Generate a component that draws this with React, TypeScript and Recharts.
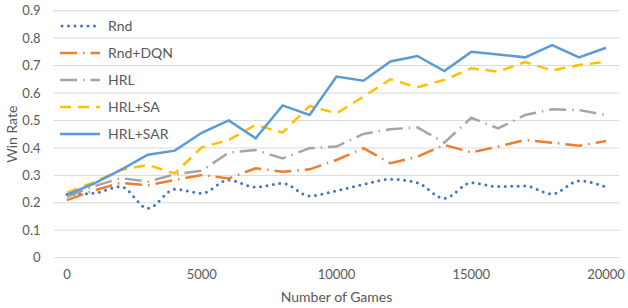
import React from 'react';
import { LineChart, Line, XAxis, YAxis, CartesianGrid, Legend } from 'recharts';

// x categories (number of games played)
const games = [0, 1000, 2000, 3000, 4000, 5000, 6000, 7000, 8000, 9000, 10000, 11000, 12000, 13000, 14000, 15000, 16000, 17000, 18000, 19000, 20000];

const rnd = [0.23, 0.235, 0.259, 0.18, 0.249, 0.235, 0.283, 0.257, 0.271, 0.225, 0.244, 0.267, 0.286, 0.273, 0.216, 0.273, 0.259, 0.261, 0.232, 0.28, 0.257];
const rndDqn = [0.21, 0.245, 0.273, 0.264, 0.283, 0.301, 0.289, 0.326, 0.313, 0.322, 0.356, 0.399, 0.344, 0.368, 0.411, 0.384, 0.405, 0.429, 0.419, 0.408, 0.425];
const hrl = [0.222, 0.26, 0.29, 0.277, 0.304, 0.317, 0.383, 0.392, 0.362, 0.399, 0.405, 0.451, 0.468, 0.475, 0.419, 0.51, 0.471, 0.52, 0.541, 0.538, 0.52];
const hrlSa = [0.237, 0.275, 0.32, 0.338, 0.307, 0.402, 0.429, 0.484, 0.456, 0.553, 0.526, 0.587, 0.65, 0.621, 0.648, 0.69, 0.678, 0.713, 0.682, 0.702, 0.714];
const hrlSar = [0.23, 0.27, 0.32, 0.375, 0.39, 0.455, 0.5, 0.435, 0.555, 0.52, 0.66, 0.645, 0.715, 0.735, 0.68, 0.75, 0.74, 0.73, 0.775, 0.73, 0.765];

const xTicks = [0, 5000, 10000, 15000, 20000];
const yTicks = [0, 0.1, 0.2, 0.3, 0.4, 0.5, 0.6, 0.7, 0.8, 0.9];

const SERIES = [
  { key: 'rnd', name: 'Rnd', color: '#4472C4', dash: '0 6.5', cap: 'round', curve: 'monotone', values: rnd },
  { key: 'rndDqn', name: 'Rnd+DQN', color: '#ED7D31', dash: '17 6 1.5 6', cap: 'butt', curve: 'linear', values: rndDqn },
  { key: 'hrl', name: 'HRL', color: '#A5A5A5', dash: '17 6 1.5 6', cap: 'butt', curve: 'linear', values: hrl },
  { key: 'hrlSa', name: 'HRL+SA', color: '#FFC000', dash: '11 7', cap: 'butt', curve: 'linear', values: hrlSa },
  { key: 'hrlSar', name: 'HRL+SAR', color: '#5B9BD5', dash: undefined, cap: 'butt', curve: 'linear', values: hrlSar },
];

const data = games.map((g, i) => {
  const row: Record<string, number> = { games: g };
  SERIES.forEach(s => { row[s.key] = s.values[i]; });
  return row;
});

const FONT = 'Lato, "Open Sans", sans-serif';
const TEXT = '#595959';

const LegendBox = () => (
  <div style={{ fontFamily: FONT, fontSize: 14, color: TEXT }}>
    {SERIES.map(s => (
      <div key={s.key} style={{ display: 'flex', alignItems: 'center', height: 27 }}>
        <svg width={42} height={6} style={{ marginRight: 6 }}>
          <line x1={s.cap === 'round' ? 2 : 0} y1={3} x2={40} y2={3} stroke={s.color} strokeWidth={s.cap === 'round' ? 3 : 2.5}
            strokeDasharray={s.dash} strokeLinecap={s.cap as any} />
        </svg>
        <span>{s.name}</span>
      </div>
    ))}
  </div>
);

export default function App() {
  return (
    <div style={{ position: 'absolute', left: 0, top: 0, background: '#fff' }}>
      <LineChart width={628} height={308} data={data}
        margin={{ top: 10.7, right: 8.5, bottom: 0, left: 0 }}>
        <CartesianGrid vertical={false} stroke="#D9D9D9" strokeWidth={1} />
        <XAxis dataKey="games" type="number" domain={[-500, 20500]} ticks={xTicks}
          axisLine={false} tickLine={false} tickSize={0} tickMargin={12} height={50.3}
          tick={{ fill: TEXT, fontSize: 13, fontFamily: FONT }}
          label={{ value: 'Number of Games', position: 'insideBottom', offset: 6, fill: TEXT, fontSize: 14, fontFamily: FONT }} />
        <YAxis domain={[0, 0.9]} ticks={yTicks} width={53.5}
          axisLine={false} tickLine={false} tickSize={0} tickMargin={13}
          tick={{ fill: TEXT, fontSize: 13, fontFamily: FONT }}
          label={{ value: 'Win Rate', angle: -90, position: 'insideLeft', offset: 12, fill: TEXT, fontSize: 14, fontFamily: FONT, style: { textAnchor: 'middle' } }} />
        <Legend layout="vertical" align="center" verticalAlign="middle"
          wrapperStyle={{ left: 60, top: 12, width: 'auto', height: 'auto' }}
          content={() => <LegendBox />} />
        {SERIES.map(s => (
          <Line key={s.key} dataKey={s.key} name={s.name} type={s.curve as any} stroke={s.color}
            strokeWidth={s.cap === 'round' ? 3 : 2.5} strokeDasharray={s.dash} strokeLinecap={s.cap as any}
            dot={false} activeDot={false} isAnimationActive={false} />
        ))}
      </LineChart>
    </div>
  );
}
